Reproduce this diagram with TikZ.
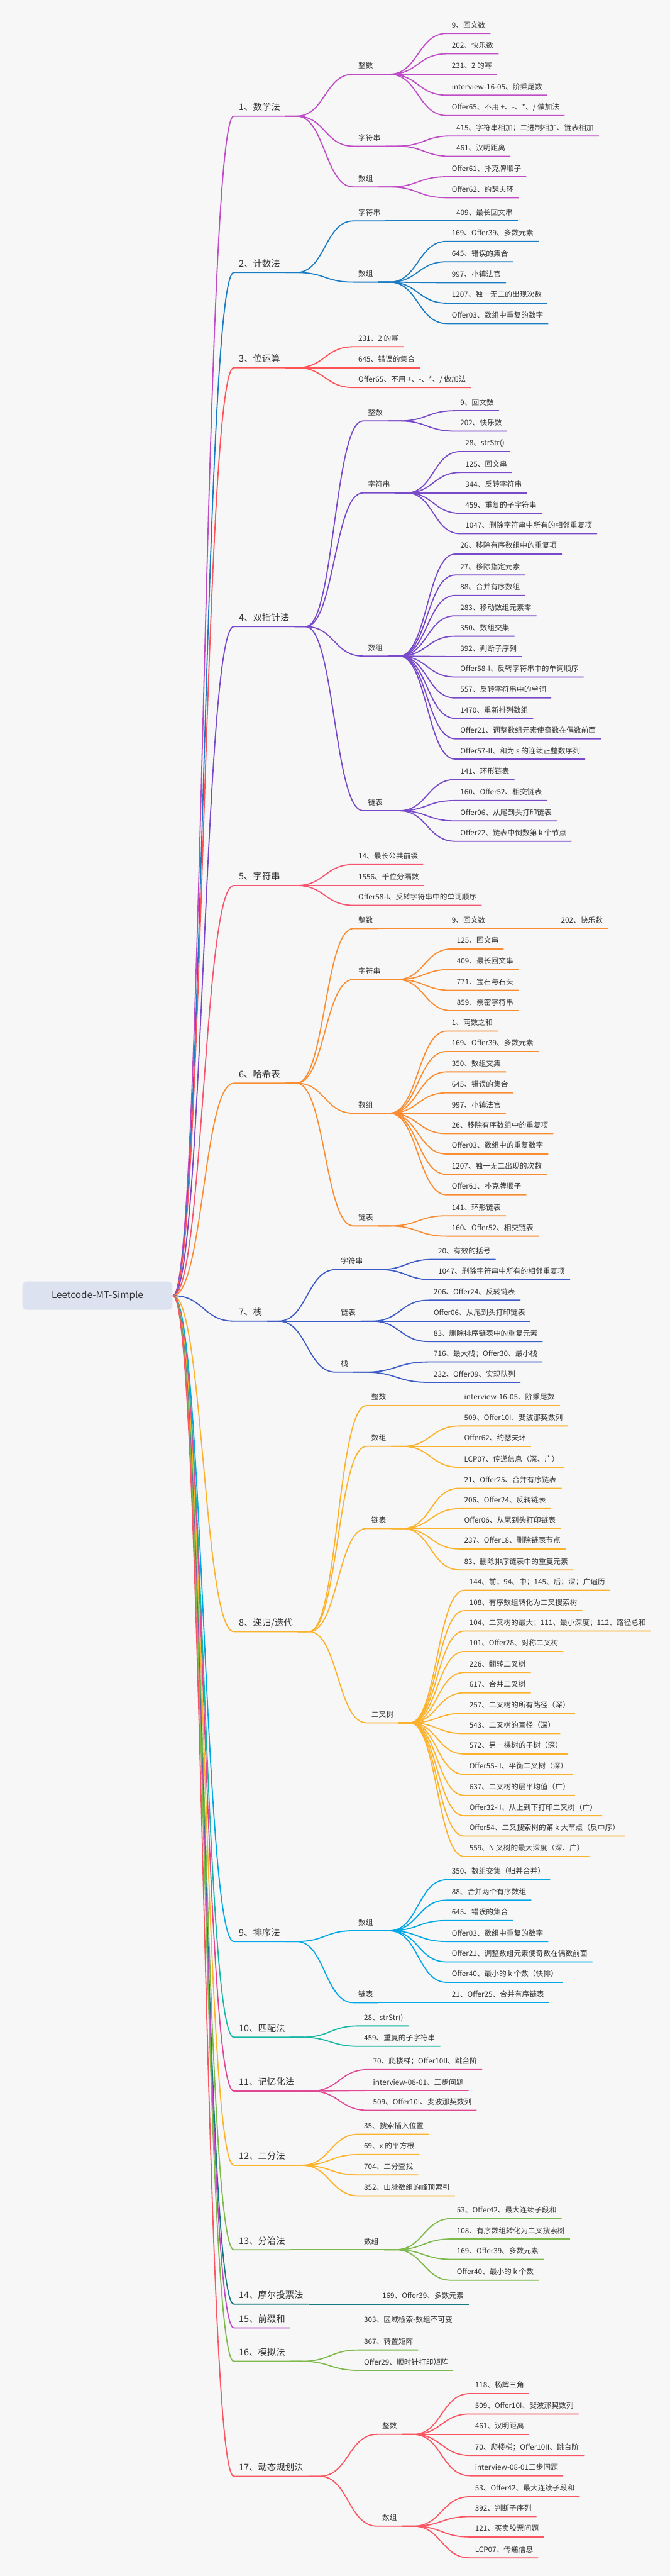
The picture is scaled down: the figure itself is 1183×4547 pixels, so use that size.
\documentclass[tikz,border=0pt]{standalone}
\usepackage{fontspec}
\setmainfont{Noto Sans CJK SC}
\usepackage{xcolor}
\usepackage{tikz}
\usetikzlibrary{calc}

\definecolor{bgc}{HTML}{F7F7F7}
\definecolor{txt}{HTML}{333333}
\definecolor{rootc}{HTML}{DCE2F0}
\definecolor{cmath}{HTML}{C04BC6}
\definecolor{ccount}{HTML}{1A7CC2}
\definecolor{cbit}{HTML}{FF5257}
\definecolor{cptr}{HTML}{7849C8}
\definecolor{cstr}{HTML}{F5556E}
\definecolor{chash}{HTML}{FA8C32}
\definecolor{cstack}{HTML}{3C5AC8}
\definecolor{crec}{HTML}{FCB22D}
\definecolor{csort}{HTML}{00A8E8}
\definecolor{cmatch}{HTML}{16B8A4}
\definecolor{cmemo}{HTML}{E04896}
\definecolor{cbin}{HTML}{FDB32B}
\definecolor{cdiv}{HTML}{7DB94B}
\definecolor{cvote}{HTML}{127A80}
\definecolor{cpre}{HTML}{C04BC6}
\definecolor{csim}{HTML}{7DB94B}
\definecolor{cdp}{HTML}{FA5563}

\begin{document}
\begin{tikzpicture}[x=1pt, y=-1pt, line width=2pt, every node/.style={text=txt}]
        \tikzstyle{topic} = [anchor=south west, inner xsep=8pt, inner ysep=6pt, text depth=3pt, font=\fontsize{13}{15}\selectfont]
        \tikzstyle{method} = [topic, font=\fontsize{16}{18}\selectfont]
        \tikzstyle{rootbox} = [rectangle, rounded corners=8pt, fill=rootc, minimum width=265pt, minimum height=50pt, font=\fontsize{17}{20}\selectfont]
        \tikzstyle{link} = [to path={let \p1=(\tikztostart), \p2=(\tikztotarget) in -- ++(20pt,0) .. controls ({0.5*\x1+0.5*\x2+10pt},\y1) and ({0.5*\x1+0.5*\x2+10pt},\y2) .. (\p2)}]
        \tikzstyle{rootlink} = [line width=2.6pt, to path={let \p1=(\tikztostart), \p2=(\tikztotarget) in .. controls ({0.5*\x1+0.5*\x2},\y1) and ({0.5*\x1+0.5*\x2},\y2) .. (\p2)}]

        \fill[bgc] (0,0) rectangle (1183,4547);
        \useasboundingbox (0,0) rectangle (1183,4547);

        \node (root) [rootbox] at (172,2287) {Leetcode-MT-Simple};

        % 1
        \begin{scope}[color=cmath]
        \node (math) [method] at (413,205) {1、数学法};
        \draw (root.east) to[rootlink] (math.south west) -- (math.south east);
        \node (mint) [topic] at (624,131) {整数};
        \draw (math.south east) to[link] (mint.south west) -- (mint.south east);
        \node (mint1) [topic] at (789,59) {9、回文数};
        \draw (mint.south east) to[link] (mint1.south west) -- (mint1.south east);
        \node (mint2) [topic] at (789,95) {202、快乐数};
        \draw (mint.south east) to[link] (mint2.south west) -- (mint2.south east);
        \node (mint3) [topic] at (789,131) {231、2 的幂};
        \draw (mint.south east) to[link] (mint3.south west) -- (mint3.south east);
        \node (mint4) [topic] at (789,168) {interview-16-05、阶乘尾数};
        \draw (mint.south east) to[link] (mint4.south west) -- (mint4.south east);
        \node (mint5) [topic] at (789,204) {Offer65、不用 +、-、*、/ 做加法};
        \draw (mint.south east) to[link] (mint5.south west) -- (mint5.south east);
        \node (mstr) [topic] at (624,258) {字符串};
        \draw (math.south east) to[link] (mstr.south west) -- (mstr.south east);
        \node (mstr1) [topic] at (797,240) {415、字符串相加；二进制相加、链表相加};
        \draw (mstr.south east) to[link] (mstr1.south west) -- (mstr1.south east);
        \node (mstr2) [topic] at (797,276) {461、汉明距离};
        \draw (mstr.south east) to[link] (mstr2.south west) -- (mstr2.south east);
        \node (marr) [topic] at (624,330) {数组};
        \draw (math.south east) to[link] (marr.south west) -- (marr.south east);
        \node (marr1) [topic] at (789,312) {Offer61、扑克牌顺子};
        \draw (marr.south east) to[link] (marr1.south west) -- (marr1.south east);
        \node (marr2) [topic] at (789,349) {Offer62、约瑟夫环};
        \draw (marr.south east) to[link] (marr2.south west) -- (marr2.south east);
        \end{scope}

        % 2
        \begin{scope}[color=ccount]
        \node (count) [method] at (413,481) {2、计数法};
        \draw (root.east) to[rootlink] (count.south west) -- (count.south east);
        \node (cstr) [topic] at (624,390) {字符串};
        \draw (count.south east) to[link] (cstr.south west) -- (cstr.south east);
        \node (cstr1) [topic] at (797,390) {409、最长回文串};
        \draw (cstr.south east) to[link] (cstr1.south west) -- (cstr1.south east);
        \node (carr) [topic] at (624,498) {数组};
        \draw (count.south east) to[link] (carr.south west) -- (carr.south east);
        \node (carr1) [topic] at (789,426) {169、Offer39、多数元素};
        \draw (carr.south east) to[link] (carr1.south west) -- (carr1.south east);
        \node (carr2) [topic] at (789,462) {645、错误的集合};
        \draw (carr.south east) to[link] (carr2.south west) -- (carr2.south east);
        \node (carr3) [topic] at (789,499) {997、小镇法官};
        \draw (carr.south east) to[link] (carr3.south west) -- (carr3.south east);
        \node (carr4) [topic] at (789,535) {1207、独一无二的出现次数};
        \draw (carr.south east) to[link] (carr4.south west) -- (carr4.south east);
        \node (carr5) [topic] at (789,571) {Offer03、数组中重复的数字};
        \draw (carr.south east) to[link] (carr5.south west) -- (carr5.south east);
        \end{scope}

        % 3
        \begin{scope}[color=cbit]
        \node (bit) [method] at (413,649) {3、位运算};
        \draw (root.east) to[rootlink] (bit.south west) -- (bit.south east);
        \node (bit1) [topic] at (624,612) {231、2 的幂};
        \draw (bit.south east) to[link] (bit1.south west) -- (bit1.south east);
        \node (bit2) [topic] at (624,649) {645、错误的集合};
        \draw (bit.south east) to[link] (bit2.south west) -- (bit2.south east);
        \node (bit3) [topic] at (624,684) {Offer65、不用 +、-、*、/ 做加法};
        \draw (bit.south east) to[link] (bit3.south west) -- (bit3.south east);
        \end{scope}

        % 4
        \begin{scope}[color=cptr]
        \node (ptr) [method] at (413,1106) {4、双指针法};
        \draw (root.east) to[rootlink] (ptr.south west) -- (ptr.south east);
        \node (pint) [topic] at (641,743) {整数};
        \draw (ptr.south east) to[link] (pint.south west) -- (pint.south east);
        \node (pint1) [topic] at (804,725) {9、回文数};
        \draw (pint.south east) to[link] (pint1.south west) -- (pint1.south east);
        \node (pint2) [topic] at (804,761) {202、快乐数};
        \draw (pint.south east) to[link] (pint2.south west) -- (pint2.south east);
        \node (pstr) [topic] at (641,870) {字符串};
        \draw (ptr.south east) to[link] (pstr.south west) -- (pstr.south east);
        \node (pstr1) [topic] at (813,797) {28、strStr()};
        \draw (pstr.south east) to[link] (pstr1.south west) -- (pstr1.south east);
        \node (pstr2) [topic] at (813,834) {125、回文串};
        \draw (pstr.south east) to[link] (pstr2.south west) -- (pstr2.south east);
        \node (pstr3) [topic] at (813,870) {344、反转字符串};
        \draw (pstr.south east) to[link] (pstr3.south west) -- (pstr3.south east);
        \node (pstr4) [topic] at (813,906) {459、重复的子字符串};
        \draw (pstr.south east) to[link] (pstr4.south west) -- (pstr4.south east);
        \node (pstr5) [topic] at (813,942) {1047、删除字符串中所有的相邻重复项};
        \draw (pstr.south east) to[link] (pstr5.south west) -- (pstr5.south east);
        \node (parr) [topic] at (641,1158) {数组};
        \draw (ptr.south east) to[link] (parr.south west) -- (parr.south east);
        \node (parr1) [topic] at (804,978) {26、移除有序数组中的重复项};
        \draw (parr.south east) to[link] (parr1.south west) -- (parr1.south east);
        \node (parr2) [topic] at (804,1015) {27、移除指定元素};
        \draw (parr.south east) to[link] (parr2.south west) -- (parr2.south east);
        \node (parr3) [topic] at (804,1051) {88、合并有序数组};
        \draw (parr.south east) to[link] (parr3.south west) -- (parr3.south east);
        \node (parr4) [topic] at (804,1087) {283、移动数组元素零};
        \draw (parr.south east) to[link] (parr4.south west) -- (parr4.south east);
        \node (parr5) [topic] at (804,1123) {350、数组交集};
        \draw (parr.south east) to[link] (parr5.south west) -- (parr5.south east);
        \node (parr6) [topic] at (804,1159) {392、判断子序列};
        \draw (parr.south east) to[link] (parr6.south west) -- (parr6.south east);
        \node (parr7) [topic] at (804,1195) {Offer58-I、反转字符串中的单词顺序};
        \draw (parr.south east) to[link] (parr7.south west) -- (parr7.south east);
        \node (parr8) [topic] at (804,1232) {557、反转字符串中的单词};
        \draw (parr.south east) to[link] (parr8.south west) -- (parr8.south east);
        \node (parr9) [topic] at (804,1268) {1470、重新排列数组};
        \draw (parr.south east) to[link] (parr9.south west) -- (parr9.south east);
        \node (parr10) [topic] at (804,1304) {Offer21、调整数组元素使奇数在偶数前面};
        \draw (parr.south east) to[link] (parr10.south west) -- (parr10.south east);
        \node (parr11) [topic] at (804,1340) {Offer57-II、和为 s 的连续正整数序列};
        \draw (parr.south east) to[link] (parr11.south west) -- (parr11.south east);
        \node (plst) [topic] at (641,1431) {链表};
        \draw (ptr.south east) to[link] (plst.south west) -- (plst.south east);
        \node (plst1) [topic] at (804,1376) {141、环形链表};
        \draw (plst.south east) to[link] (plst1.south west) -- (plst1.south east);
        \node (plst2) [topic] at (804,1413) {160、Offer52、相交链表};
        \draw (plst.south east) to[link] (plst2.south west) -- (plst2.south east);
        \node (plst3) [topic] at (804,1449) {Offer06、从尾到头打印链表};
        \draw (plst.south east) to[link] (plst3.south west) -- (plst3.south east);
        \node (plst4) [topic] at (804,1485) {Offer22、链表中倒数第 k 个节点};
        \draw (plst.south east) to[link] (plst4.south west) -- (plst4.south east);
        \end{scope}

        % 5
        \begin{scope}[color=cstr]
        \node (str) [method] at (413,1563) {5、字符串};
        \draw (root.east) to[rootlink] (str.south west) -- (str.south east);
        \node (str1) [topic] at (624,1526) {14、最长公共前缀};
        \draw (str.south east) to[link] (str1.south west) -- (str1.south east);
        \node (str2) [topic] at (624,1563) {1556、千位分隔数};
        \draw (str.south east) to[link] (str2.south west) -- (str2.south east);
        \node (str3) [topic] at (624,1598) {Offer58-I、反转字符串中的单词顺序};
        \draw (str.south east) to[link] (str3.south west) -- (str3.south east);
        \end{scope}

        % 6
        \begin{scope}[color=chash]
        \node (hash) [method] at (413,1912) {6、哈希表};
        \draw (root.east) to[rootlink] (hash.south west) -- (hash.south east);
        \node (hint) [topic] at (624,1639) {整数};
        \draw (hash.south east) to[link] (hint.south west) -- (hint.south east);
        \node (hint1) [topic] at (789,1639) {9、回文数};
        \draw (hint.south east) to[link] (hint1.south west) -- (hint1.south east);
        \node (hint2) [topic] at (982,1639) {202、快乐数};
        \draw (hint1.south east) to[link] (hint2.south west) -- (hint2.south east);
        \node (hstr) [topic] at (624,1729) {字符串};
        \draw (hash.south east) to[link] (hstr.south west) -- (hstr.south east);
        \node (hstr1) [topic] at (798,1675) {125、回文串};
        \draw (hstr.south east) to[link] (hstr1.south west) -- (hstr1.south east);
        \node (hstr2) [topic] at (798,1711) {409、最长回文串};
        \draw (hstr.south east) to[link] (hstr2.south west) -- (hstr2.south east);
        \node (hstr3) [topic] at (798,1748) {771、宝石与石头};
        \draw (hstr.south east) to[link] (hstr3.south west) -- (hstr3.south east);
        \node (hstr4) [topic] at (798,1784) {859、亲密字符串};
        \draw (hstr.south east) to[link] (hstr4.south west) -- (hstr4.south east);
        \node (harr) [topic] at (624,1965) {数组};
        \draw (hash.south east) to[link] (harr.south west) -- (harr.south east);
        \node (harr1) [topic] at (789,1820) {1、两数之和};
        \draw (harr.south east) to[link] (harr1.south west) -- (harr1.south east);
        \node (harr2) [topic] at (789,1856) {169、Offer39、多数元素};
        \draw (harr.south east) to[link] (harr2.south west) -- (harr2.south east);
        \node (harr3) [topic] at (789,1892) {350、数组交集};
        \draw (harr.south east) to[link] (harr3.south west) -- (harr3.south east);
        \node (harr4) [topic] at (789,1929) {645、错误的集合};
        \draw (harr.south east) to[link] (harr4.south west) -- (harr4.south east);
        \node (harr5) [topic] at (789,1965) {997、小镇法官};
        \draw (harr.south east) to[link] (harr5.south west) -- (harr5.south east);
        \node (harr6) [topic] at (789,2001) {26、移除有序数组中的重复项};
        \draw (harr.south east) to[link] (harr6.south west) -- (harr6.south east);
        \node (harr7) [topic] at (789,2037) {Offer03、数组中的重复数字};
        \draw (harr.south east) to[link] (harr7.south west) -- (harr7.south east);
        \node (harr8) [topic] at (789,2073) {1207、独一无二出现的次数};
        \draw (harr.south east) to[link] (harr8.south west) -- (harr8.south east);
        \node (harr9) [topic] at (789,2109) {Offer61、扑克牌顺子};
        \draw (harr.south east) to[link] (harr9.south west) -- (harr9.south east);
        \node (hlst) [topic] at (624,2164) {链表};
        \draw (hash.south east) to[link] (hlst.south west) -- (hlst.south east);
        \node (hlst1) [topic] at (789,2146) {141、环形链表};
        \draw (hlst.south east) to[link] (hlst1.south west) -- (hlst1.south east);
        \node (hlst2) [topic] at (789,2182) {160、Offer52、相交链表};
        \draw (hlst.south east) to[link] (hlst2.south west) -- (hlst2.south east);
        \end{scope}

        % 7
        \begin{scope}[color=cstack]
        \node (stack) [method] at (413,2332) {7、栈};
        \draw (root.east) to[rootlink] (stack.south west) -- (stack.south east);
        \node (sstr) [topic] at (593,2241) {字符串};
        \draw (stack.south east) to[link] (sstr.south west) -- (sstr.south east);
        \node (sstr1) [topic] at (765,2223) {20、有效的括号};
        \draw (sstr.south east) to[link] (sstr1.south west) -- (sstr1.south east);
        \node (sstr2) [topic] at (765,2259) {1047、删除字符串中所有的相邻重复项};
        \draw (sstr.south east) to[link] (sstr2.south west) -- (sstr2.south east);
        \node (slst) [topic] at (593,2332) {链表};
        \draw (stack.south east) to[link] (slst.south west) -- (slst.south east);
        \node (slst1) [topic] at (757,2295) {206、Offer24、反转链表};
        \draw (slst.south east) to[link] (slst1.south west) -- (slst1.south east);
        \node (slst2) [topic] at (757,2332) {Offer06、从尾到头打印链表};
        \draw (slst.south east) to[link] (slst2.south west) -- (slst2.south east);
        \node (slst3) [topic] at (757,2368) {83、删除排序链表中的重复元素};
        \draw (slst.south east) to[link] (slst3.south west) -- (slst3.south east);
        \node (sstk) [topic] at (593,2422) {栈};
        \draw (stack.south east) to[link] (sstk.south west) -- (sstk.south east);
        \node (sstk1) [topic] at (757,2404) {716、最大栈；Offer30、最小栈};
        \draw (sstk.south east) to[link] (sstk1.south west) -- (sstk1.south east);
        \node (sstk2) [topic] at (757,2440) {232、Offer09、实现队列};
        \draw (sstk.south east) to[link] (sstk2.south west) -- (sstk2.south east);
        \end{scope}

        % 8
        \begin{scope}[color=crec]
        \node (rec) [method] at (413,2880) {8、递归/迭代};
        \draw (root.east) to[rootlink] (rec.south west) -- (rec.south east);
        \node (rint) [topic] at (647,2481) {整数};
        \draw (rec.south east) to[link] (rint.south west) -- (rint.south east);
        \node (rint1) [topic] at (811,2481) {interview-16-05、阶乘尾数};
        \draw (rint.south east) to[link] (rint1.south west) -- (rint1.south east);
        \node (rarr) [topic] at (647,2553) {数组};
        \draw (rec.south east) to[link] (rarr.south west) -- (rarr.south east);
        \node (rarr1) [topic] at (811,2517) {509、Offer10I、斐波那契数列};
        \draw (rarr.south east) to[link] (rarr1.south west) -- (rarr1.south east);
        \node (rarr2) [topic] at (811,2553) {Offer62、约瑟夫环};
        \draw (rarr.south east) to[link] (rarr2.south west) -- (rarr2.south east);
        \node (rarr3) [topic] at (811,2590) {LCP07、传递信息（深、广）};
        \draw (rarr.south east) to[link] (rarr3.south west) -- (rarr3.south east);
        \node (rlst) [topic] at (647,2698) {链表};
        \draw (rec.south east) to[link] (rlst.south west) -- (rlst.south east);
        \node (rlst1) [topic] at (811,2627) {21、Offer25、合并有序链表};
        \draw (rlst.south east) to[link] (rlst1.south west) -- (rlst1.south east);
        \node (rlst2) [topic] at (811,2663) {206、Offer24、反转链表};
        \draw (rlst.south east) to[link] (rlst2.south west) -- (rlst2.south east);
        \node (rlst3) [topic] at (811,2698) {Offer06、从尾到头打印链表};
        \draw (rlst.south east) to[link] (rlst3.south west) -- (rlst3.south east);
        \node (rlst4) [topic] at (811,2734) {237、Offer18、删除链表节点};
        \draw (rlst.south east) to[link] (rlst4.south west) -- (rlst4.south east);
        \node (rlst5) [topic] at (811,2771) {83、删除排序链表中的重复元素};
        \draw (rlst.south east) to[link] (rlst5.south west) -- (rlst5.south east);
        \node (rtree) [topic] at (647,3041) {二叉树};
        \draw (rec.south east) to[link] (rtree.south west) -- (rtree.south east);
        \node (rtree1) [topic] at (820,2807) {144、前；94、中；145、后；深；广遍历};
        \draw (rtree.south east) to[link] (rtree1.south west) -- (rtree1.south east);
        \node (rtree2) [topic] at (820,2843) {108、有序数组转化为二叉搜索树};
        \draw (rtree.south east) to[link] (rtree2.south west) -- (rtree2.south east);
        \node (rtree3) [topic] at (820,2879) {104、二叉树的最大；111、最小深度；112、路径总和};
        \draw (rtree.south east) to[link] (rtree3.south west) -- (rtree3.south east);
        \node (rtree4) [topic] at (820,2915) {101、Offer28、对称二叉树};
        \draw (rtree.south east) to[link] (rtree4.south west) -- (rtree4.south east);
        \node (rtree5) [topic] at (820,2952) {226、翻转二叉树};
        \draw (rtree.south east) to[link] (rtree5.south west) -- (rtree5.south east);
        \node (rtree6) [topic] at (820,2988) {617、合并二叉树};
        \draw (rtree.south east) to[link] (rtree6.south west) -- (rtree6.south east);
        \node (rtree7) [topic] at (820,3024) {257、二叉树的所有路径（深）};
        \draw (rtree.south east) to[link] (rtree7.south west) -- (rtree7.south east);
        \node (rtree8) [topic] at (820,3060) {543、二叉树的直径（深）};
        \draw (rtree.south east) to[link] (rtree8.south west) -- (rtree8.south east);
        \node (rtree9) [topic] at (820,3096) {572、另一棵树的子树（深）};
        \draw (rtree.south east) to[link] (rtree9.south west) -- (rtree9.south east);
        \node (rtree10) [topic] at (820,3132) {Offer55-II、平衡二叉树（深）};
        \draw (rtree.south east) to[link] (rtree10.south west) -- (rtree10.south east);
        \node (rtree11) [topic] at (820,3169) {637、二叉树的层平均值（广）};
        \draw (rtree.south east) to[link] (rtree11.south west) -- (rtree11.south east);
        \node (rtree12) [topic] at (820,3205) {Offer32-II、从上到下打印二叉树（广）};
        \draw (rtree.south east) to[link] (rtree12.south west) -- (rtree12.south east);
        \node (rtree13) [topic] at (820,3241) {Offer54、二叉搜索树的第 k 大节点（反中序）};
        \draw (rtree.south east) to[link] (rtree13.south west) -- (rtree13.south east);
        \node (rtree14) [topic] at (820,3277) {559、N 叉树的最大深度（深、广）};
        \draw (rtree.south east) to[link] (rtree14.south west) -- (rtree14.south east);
        \end{scope}

        % 9
        \begin{scope}[color=csort]
        \node (sort) [method] at (413,3427) {9、排序法};
        \draw (root.east) to[rootlink] (sort.south west) -- (sort.south east);
        \node (oarr) [topic] at (624,3408) {数组};
        \draw (sort.south east) to[link] (oarr.south west) -- (oarr.south east);
        \node (oarr1) [topic] at (789,3318) {350、数组交集（归并合并）};
        \draw (oarr.south east) to[link] (oarr1.south west) -- (oarr1.south east);
        \node (oarr2) [topic] at (789,3354) {88、合并两个有序数组};
        \draw (oarr.south east) to[link] (oarr2.south west) -- (oarr2.south east);
        \node (oarr3) [topic] at (789,3390) {645、错误的集合};
        \draw (oarr.south east) to[link] (oarr3.south west) -- (oarr3.south east);
        \node (oarr4) [topic] at (789,3427) {Offer03、数组中重复的数字};
        \draw (oarr.south east) to[link] (oarr4.south west) -- (oarr4.south east);
        \node (oarr5) [topic] at (789,3463) {Offer21、调整数组元素使奇数在偶数前面};
        \draw (oarr.south east) to[link] (oarr5.south west) -- (oarr5.south east);
        \node (oarr6) [topic] at (789,3499) {Offer40、最小的 k 个数（快排）};
        \draw (oarr.south east) to[link] (oarr6.south west) -- (oarr6.south east);
        \node (olst) [topic] at (624,3535) {链表};
        \draw (sort.south east) to[link] (olst.south west) -- (olst.south east);
        \node (olst1) [topic] at (789,3535) {21、Offer25、合并有序链表};
        \draw (olst.south east) to[link] (olst1.south west) -- (olst1.south east);
        \end{scope}

        % 10
        \begin{scope}[color=cmatch]
        \node (match) [method] at (413,3596) {10、匹配法};
        \draw (root.east) to[rootlink] (match.south west) -- (match.south east);
        \node (match1) [topic] at (634,3576) {28、strStr()};
        \draw (match.south east) to[link] (match1.south west) -- (match1.south east);
        \node (match2) [topic] at (634,3612) {459、重复的子字符串};
        \draw (match.south east) to[link] (match2.south west) -- (match2.south east);
        \end{scope}

        % 11
        \begin{scope}[color=cmemo]
        \node (memo) [method] at (413,3691) {11、记忆化法};
        \draw (root.east) to[rootlink] (memo.south west) -- (memo.south east);
        \node (memo1) [topic] at (650,3653) {70、爬楼梯；Offer10II、跳台阶};
        \draw (memo.south east) to[link] (memo1.south west) -- (memo1.south east);
        \node (memo2) [topic] at (650,3690) {interview-08-01、三步问题};
        \draw (memo.south east) to[link] (memo2.south west) -- (memo2.south east);
        \node (memo3) [topic] at (650,3725) {509、Offer10I、斐波那契数列};
        \draw (memo.south east) to[link] (memo3.south west) -- (memo3.south east);
        \end{scope}

        % 12
        \begin{scope}[color=cbin]
        \node (bin) [method] at (413,3822) {12、二分法};
        \draw (root.east) to[rootlink] (bin.south west) -- (bin.south east);
        \node (bin1) [topic] at (634,3767) {35、搜索插入位置};
        \draw (bin.south east) to[link] (bin1.south west) -- (bin1.south east);
        \node (bin2) [topic] at (634,3803) {69、x 的平方根};
        \draw (bin.south east) to[link] (bin2.south west) -- (bin2.south east);
        \node (bin3) [topic] at (634,3839) {704、二分查找};
        \draw (bin.south east) to[link] (bin3.south west) -- (bin3.south east);
        \node (bin4) [topic] at (634,3876) {852、山脉数组的峰顶索引};
        \draw (bin.south east) to[link] (bin4.south west) -- (bin4.south east);
        \end{scope}

        % 13
        \begin{scope}[color=cdiv]
        \node (div) [method] at (413,3971) {13、分治法};
        \draw (root.east) to[rootlink] (div.south west) -- (div.south east);
        \node (darr) [topic] at (634,3971) {数组};
        \draw (div.south east) to[link] (darr.south west) -- (darr.south east);
        \node (darr1) [topic] at (798,3916) {53、Offer42、最大连续子段和};
        \draw (darr.south east) to[link] (darr1.south west) -- (darr1.south east);
        \node (darr2) [topic] at (798,3952) {108、有序数组转化为二叉搜索树};
        \draw (darr.south east) to[link] (darr2.south west) -- (darr2.south east);
        \node (darr3) [topic] at (798,3988) {169、Offer39、多数元素};
        \draw (darr.south east) to[link] (darr3.south west) -- (darr3.south east);
        \node (darr4) [topic] at (798,4025) {Offer40、最小的 k 个数};
        \draw (darr.south east) to[link] (darr4.south west) -- (darr4.south east);
        \end{scope}

        % 14
        \begin{scope}[color=cvote]
        \node (vote) [method] at (413,4067) {14、摩尔投票法};
        \draw (root.east) to[rootlink] (vote.south west) -- (vote.south east);
        \node (vote1) [topic] at (666,4067) {169、Offer39、多数元素};
        \draw (vote.south east) to[link] (vote1.south west) -- (vote1.south east);
        \end{scope}

        % 15
        \begin{scope}[color=cpre]
        \node (pre) [method] at (413,4109) {15、前缀和};
        \draw (root.east) to[rootlink] (pre.south west) -- (pre.south east);
        \node (pre1) [topic] at (634,4109) {303、区域检索-数组不可变};
        \draw (pre.south east) to[link] (pre1.south west) -- (pre1.south east);
        \end{scope}

        % 16
        \begin{scope}[color=csim]
        \node (sim) [method] at (413,4168) {16、模拟法};
        \draw (root.east) to[rootlink] (sim.south west) -- (sim.south east);
        \node (sim1) [topic] at (634,4148) {867、转置矩阵};
        \draw (sim.south east) to[link] (sim1.south west) -- (sim1.south east);
        \node (sim2) [topic] at (634,4184) {Offer29、顺时针打印矩阵};
        \draw (sim.south east) to[link] (sim2.south west) -- (sim2.south east);
        \end{scope}

        % 17
        \begin{scope}[color=cdp]
        \node (dp) [method] at (413,4371) {17、动态规划法};
        \draw (root.east) to[rootlink] (dp.south west) -- (dp.south east);
        \node (dint) [topic] at (666,4297) {整数};
        \draw (dp.south east) to[link] (dint.south west) -- (dint.south east);
        \node (dint1) [topic] at (830,4225) {118、杨辉三角};
        \draw (dint.south east) to[link] (dint1.south west) -- (dint1.south east);
        \node (dint2) [topic] at (830,4261) {509、Offer10I、斐波那契数列};
        \draw (dint.south east) to[link] (dint2.south west) -- (dint2.south east);
        \node (dint3) [topic] at (830,4297) {461、汉明距离};
        \draw (dint.south east) to[link] (dint3.south west) -- (dint3.south east);
        \node (dint4) [topic] at (830,4334) {70、爬楼梯；Offer10II、跳台阶};
        \draw (dint.south east) to[link] (dint4.south west) -- (dint4.south east);
        \node (dint5) [topic] at (830,4370) {interview-08-01三步问题};
        \draw (dint.south east) to[link] (dint5.south west) -- (dint5.south east);
        \node (dvec) [topic] at (666,4459) {数组};
        \draw (dp.south east) to[link] (dvec.south west) -- (dvec.south east);
        \node (dvec1) [topic] at (830,4407) {53、Offer42、最大连续子段和};
        \draw (dvec.south east) to[link] (dvec1.south west) -- (dvec1.south east);
        \node (dvec2) [topic] at (830,4442) {392、判断子序列};
        \draw (dvec.south east) to[link] (dvec2.south west) -- (dvec2.south east);
        \node (dvec3) [topic] at (830,4478) {121、买卖股票问题};
        \draw (dvec.south east) to[link] (dvec3.south west) -- (dvec3.south east);
        \node (dvec4) [topic] at (830,4515) {LCP07、传递信息};
        \draw (dvec.south east) to[link] (dvec4.south west) -- (dvec4.south east);
        \end{scope}
    \end{tikzpicture}
\end{document}
